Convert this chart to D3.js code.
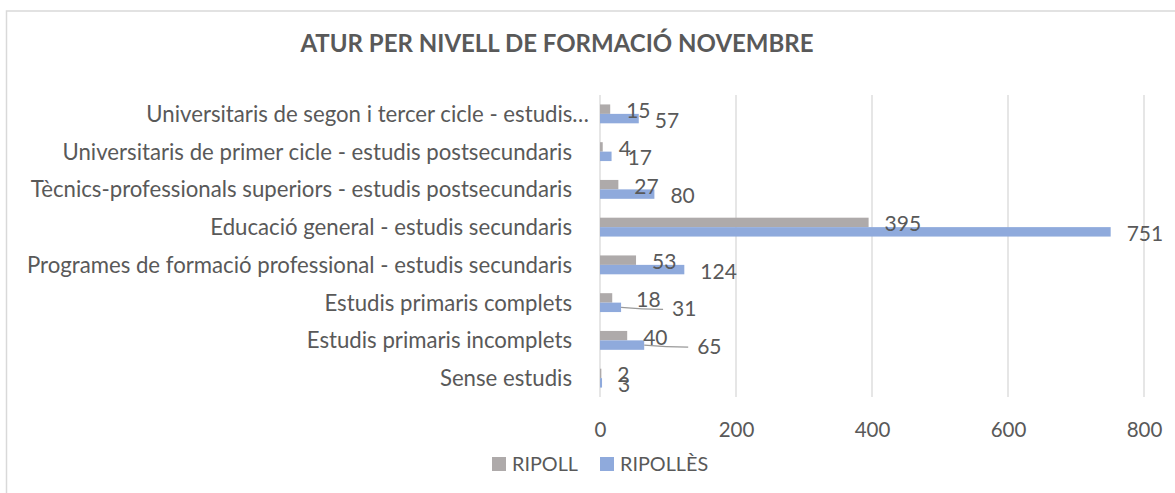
<!DOCTYPE html>
<html>
<head>
<meta charset="utf-8">
<script src="https://cdn.jsdelivr.net/npm/d3@7"></script>
<style>
  body { margin: 0; background: #fff; }
  svg { display: block; font-family: Lato, "Open Sans", sans-serif; }
</style>
</head>
<body>
<div id="chart"></div>
<script>
const categories = [
  "Universitaris de segon i tercer cicle - estudis…",
  "Universitaris de primer cicle - estudis postsecundaris",
  "Tècnics-professionals superiors - estudis postsecundaris",
  "Educació general - estudis secundaris",
  "Programes de formació professional - estudis secundaris",
  "Estudis primaris complets",
  "Estudis primaris incomplets",
  "Sense estudis"
];
const seriesNames = ["RIPOLL", "RIPOLLÈS"];
const ripoll = [15, 4, 27, 395, 53, 18, 40, 2];
const ripolles = [57, 17, 80, 751, 124, 31, 65, 3];
const xTicks = [0, 200, 400, 600, 800];

// extra push of some labels (moved by hand in the original), px
const ripollShift = [0, 0, 0, 0, 0, 8, 0, 0];
const ripollesShift = [0, 0, 0, 0, 0, 35, 37, 0];

const width = 1175, height = 493;
const textColor = "#595959";
const colors = { "RIPOLL": "#AEAAAA", "RIPOLLÈS": "#8FAADC" };
const fs = 21;       // numbers
const catFs = 22.2;  // category labels

const svg = d3.select("#chart")
  .append("svg")
  .attr("width", width)
  .attr("height", height);

// chart frame
svg.append("rect")
  .attr("x", 6.5).attr("y", 11)
  .attr("width", 2000).attr("height", 1000)
  .attr("fill", "none")
  .attr("stroke", "#D9D9D9")
  .attr("stroke-width", 1.5);

svg.append("text")
  .attr("x", 557).attr("y", 52)
  .attr("text-anchor", "middle")
  .attr("font-size", 24)
  .attr("font-weight", "bold")
  .attr("fill", textColor)
  .text("ATUR PER NIVELL DE FORMACIÓ NOVEMBRE");

const x = d3.scaleLinear().domain([0, 800]).range([600, 1144]);
const y = d3.scaleBand().domain(categories).range([95, 397])
  .paddingInner(0.5).paddingOuter(0.25);
const ySub = d3.scaleBand().domain(seriesNames).range([0, y.bandwidth()]);

// gridlines
svg.append("g")
  .selectAll("line")
  .data(xTicks)
  .join("line")
  .attr("x1", d => x(d)).attr("x2", d => x(d))
  .attr("y1", 95).attr("y2", 397)
  .attr("stroke", "#D9D9D9")
  .attr("stroke-width", 1.3);

// x axis labels
const xAxis = d3.axisBottom(x).tickValues(xTicks).tickSize(0).tickPadding(0);
const gx = svg.append("g")
  .attr("transform", "translate(0,437)")
  .call(xAxis);
gx.select(".domain").remove();
gx.selectAll("text")
  .attr("dy", 0)
  .attr("font-size", 20.5)
  .attr("font-family", "Lato, 'Open Sans', sans-serif")
  .attr("fill", textColor);

// category labels
svg.append("g")
  .selectAll("text")
  .data(categories)
  .join("text")
  .attr("x", d => d.endsWith("…") ? 589 : 572)
  .attr("y", d => y(d) - y.step() * 0.25 + y.step() / 2 + 0.36 * catFs)
  .attr("text-anchor", "end")
  .attr("font-size", catFs)
  .attr("fill", textColor)
  .text(d => d);

const rows = categories.map((c, i) => ({
  cat: c,
  vals: [
    { s: "RIPOLL", v: ripoll[i], shift: ripollShift[i] },
    { s: "RIPOLLÈS", v: ripolles[i], shift: ripollesShift[i] }
  ]
}));

const groups = svg.append("g")
  .selectAll("g")
  .data(rows)
  .join("g")
  .attr("transform", d => `translate(0,${y(d.cat)})`);

groups.selectAll("rect")
  .data(d => d.vals)
  .join("rect")
  .attr("x", x(0))
  .attr("y", d => ySub(d.s))
  .attr("width", d => x(d.v) - x(0))
  .attr("height", ySub.bandwidth())
  .attr("fill", d => colors[d.s]);

// leader lines for moved labels
groups.selectAll("path.leader")
  .data(d => d.vals.filter(v => v.shift > 20))
  .join("path")
  .attr("class", "leader")
  .attr("d", d => {
    const x0 = x(d.v), y0 = ySub(d.s) + ySub.bandwidth() / 2;
    const x1 = x(d.v) + 16 + d.shift - 9, y1 = y0 + 2;
    return `M${x0},${y0} Q${(x0 + x1) / 2},${y1} ${x1},${y1}`;
  })
  .attr("fill", "none")
  .attr("stroke", "#999")
  .attr("stroke-width", 1.3);

groups.selectAll("text")
  .data(d => d.vals)
  .join("text")
  .attr("x", d => x(d.v) + 16 + d.shift)
  .attr("y", d => ySub(d.s) + ySub.bandwidth() / 2 + 1.5 + 0.36 * fs)
  .attr("font-size", fs)
  .attr("fill", textColor)
  .text(d => d.v);

// legend
const legend = svg.append("g")
  .selectAll("g")
  .data(seriesNames)
  .join("g")
  .attr("transform", (d, i) => `translate(${i === 0 ? 492 : 600},457)`);
legend.append("rect")
  .attr("width", 14).attr("height", 14)
  .attr("fill", d => colors[d]);
legend.append("text")
  .attr("x", 20).attr("y", 14)
  .attr("font-size", 19.8)
  .attr("fill", textColor)
  .text(d => d);
</script>
</body>
</html>
